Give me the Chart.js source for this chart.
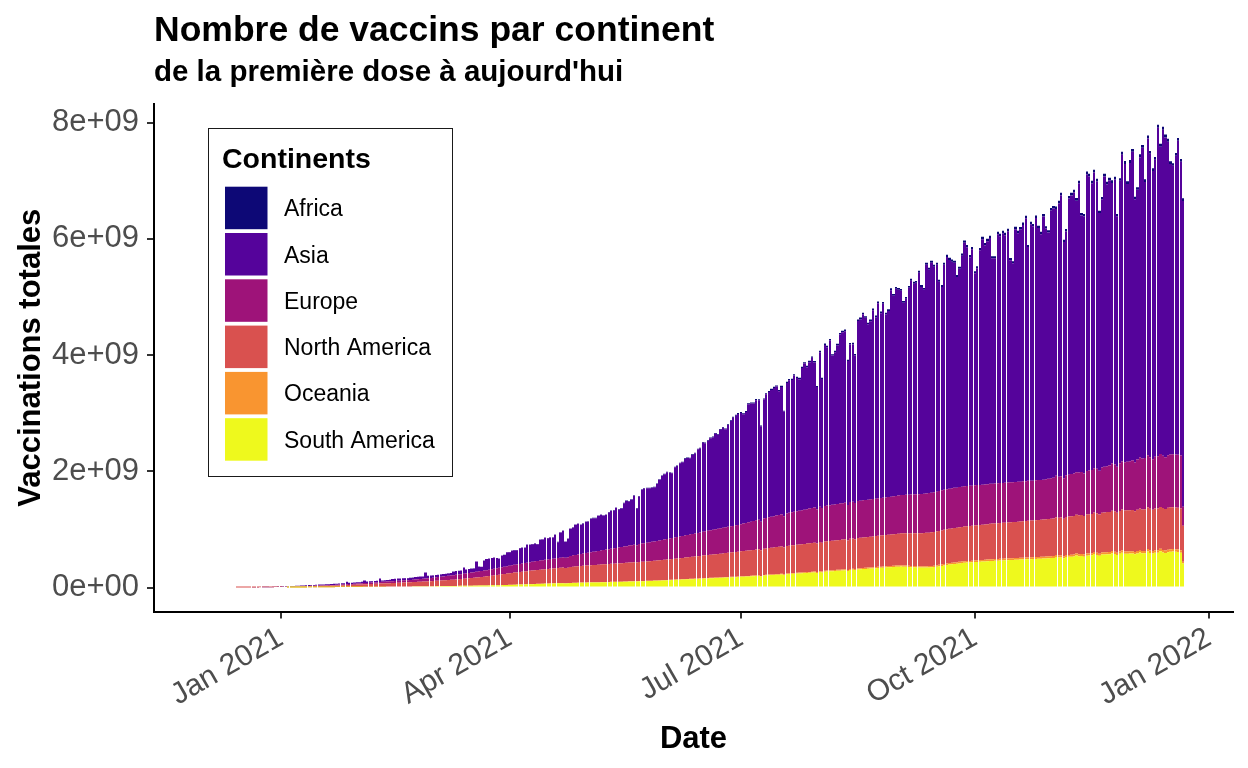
<!DOCTYPE html>
<html><head><meta charset="utf-8">
<script src="https://cdn.jsdelivr.net/npm/chart.js@4.4.1/dist/chart.umd.min.js"></script>
<style>html,body{margin:0;padding:0;background:#fff;}canvas{display:block;}</style>
</head><body>
<canvas id="c" width="1248" height="768"></canvas>
<script>
// ---- texts ----
const titleText = "Nombre de vaccins par continent";
const subtitleText = "de la première dose à aujourd'hui";
const xTitle = "Date";
const yTitle = "Vaccinations totales";
const legendTitle = "Continents";
const continents = ["Africa", "Asia", "Europe", "North America", "Oceania", "South America"];
const continentColors = ["#0D0876", "#55039B", "#9E1379", "#D9514F", "#F99530", "#EEF91D"];

// ---- categories: days since 2021-01-01, first bar = 2020-12-15 ----
const firstDay = -17;

// ---- tick labels ----
const xTickDays = [0, 90, 181, 273, 365];
const xTickLabels = ["Jan 2021", "Apr 2021", "Jul 2021", "Oct 2021", "Jan 2022"];
const yTickValues = [0, 2e9, 4e9, 6e9, 8e9];
const yTickLabels = ["0e+00", "2e+09", "4e+09", "6e+09", "8e+09"];

// ---- series values, millions of doses per day (cumulative totals reported) ----
const southAmerica = [
0,0,0,0,0,0,0,0,0,0,0,0,0,0,0,0,0,
0,0,0,0.5,0.5,1,1,1.5,1.5,2,
2,2.5,3,3,3.5,4,4.5,5,5,5.5,
6,6,6.5,7,7,7.5,8,8.5,9,9.5,
10,10,10.5,11,11.5,12,12.5,13,13.5,14,
14.5,15,15.5,16,16,16.5,17,17,17.5,18,
18.5,19,19.5,20,20.5,21,21.5,22,22.5,23,
23,23.5,24,24.5,25,25,25.5,26,26.5,27,
27.5,28,29,29.5,30,31,31.5,32,33,34,
34.5,35,36,37,37.5,38,39,40,41,42.5,
44,45,47,48,50,51,53,54,56,57,
59,60,62,63,65,66,68,69,70,71,
72,73,70,72,76,78,79,80,81,82,
83,84,85,86,87,88,89,90,91,92,
93,94,95,96,97,99,100,102,103,104,
105,106,107,108,110,111,113,115,116,118,
120,122,124,126,128,130,132,134,136,138,
140,142,144,146,148,150,152,154,156,158,
160,162,164,166,168,170,172,174,176,178,
180,183,185,188,190,193,195,198,200,190,
205,208,211,213,216,219,221,224,215,229,
232,235,237,240,243,245,248,251,254,257,
260,250,266,260,272,275,278,281,284,287,
290,293,296,285,302,305,300,311,314,317,
320,323,326,329,332,335,338,341,344,347,
350,353,356,358,360,358,355,352,350,348,
345,343,342,342,343,345,348,352,358,365,
372,380,388,395,400,405,410,415,420,425,
428,431,434,437,440,443,446,449,452,455,
458,460,462,464,466,468,470,472,474,476,
478,480,482,484,486,488,490,492,494,496,
497,500,503,506,509,525,515,518,505,524,
527,530,533,550,539,542,530,548,551,554,
575,560,545,566,568,570,572,590,576,560,
579,600,581,582,583,584,570,586,605,588,
590,620,594,585,598,600,625,604,595,608,
617,620,615,610,600,412
];

const oceania = [
0,0,0,0,0,0,0,0,0,0,0,0,0,0,0,0,0,
0,0,0,0,0,0,0,0,0,0,
0,0,0,0,0,0,0,0,0,0,
0,0,0,0,0,0,0,0,0,0,
0,0,0,0,0,0,0,0,0,0,
0,0,0,0,0,0,0,0,0,0,
0,0,0.1,0.1,0.2,0.2,0.3,0.3,0.4,0.4,
0.5,0.5,0.6,0.6,0.7,0.7,0.8,0.8,0.9,0.9,
1,1,1,1.1,1.1,1.2,1.2,1.3,1.3,1.4,
1.4,1.5,1.5,1.6,1.6,1.7,1.7,1.8,1.8,1.9,
1.9,2,2,2.1,2.1,2.2,2.2,2.3,2.3,2.4,
2.4,2.5,2.5,2.6,2.6,2.7,2.7,2.8,2.8,2.9,
3,3,3,3,3,3,3,3,3,3.5,
3.5,3.5,3.5,3.5,3.5,4,4,4,4,4,
4,4,4,4,4,4,4,5,5,5,
5,5,5,5,5,5,5,5,6,6,
6,6,6,6,6,6,6,7,7,7,
7,7,7,7,7,7,8,8,8,8,
8,8,8,8,8,8,9,9,9,9,
9,9,9,9,10,10,10,10,10,10,
11,11,11,11,11,12,12,12,12,12,
13,13,13,13,14,14,14,14,14,15,
15,15,15,15,16,16,16,16,16,17,
17,17,17,17,18,18,18,18,18,19,
19,19,19,19,20,20,20,20,20,21,
21,21,21,21,22,22,22,22,22,23,
23,23,23,23,24,24,24,24,24,25,
25,25,25,25,26,26,26,26,26,27,
27,27,27,27,28,28,28,28,28,29,
29,29,29,29,29,30,30,30,30,30,
30,30,31,31,31,31,31,32,32,32,
32,32,33,33,33,33,34,34,34,34,
34,35,35,35,35,36,36,36,36,36,
37,37,37,37,37,38,38,38,38,38,
39,39,39,39,39,40,40,40,40,40,
40,41,41,41,41,41,42,42,42,42,
42,42,43,43,43,30
];

const northAmerica = [
0.1,0.2,0.3,0.5,0.7,0.9,1.2,1.5,1.9,2.3,2.8,3.5,4.2,5,6,7,8.5,
10,11,12,12,13,14,15,16,16,17,
18,19,20,21,22,23,24,24,25,26,
27,28,29,31,32,33,35,36,37,39,
40,41,43,44,46,47,49,50,52,53,
55,56,58,59,61,62,64,65,67,68,
70,72,73,75,77,79,80,82,84,86,
88,90,92,95,97,100,102,105,107,110,
113,116,120,123,127,131,135,139,143,147,
150,155,160,165,170,175,180,185,190,195,
200,203,207,210,214,217,221,224,228,231,
235,238,241,244,247,250,253,256,259,262,
265,268,262,266,275,278,280,283,285,288,
290,292,294,296,298,300,302,304,306,308,
310,312,313,315,317,318,320,322,323,325,
320,329,331,332,334,336,338,340,341,343,
345,348,350,353,356,358,361,364,366,369,
372,375,378,380,383,386,389,392,395,397,
400,403,406,408,411,414,417,420,422,425,
428,430,433,435,438,440,442,445,447,440,
452,454,457,459,461,464,466,468,460,473,
475,477,479,482,484,486,488,490,493,495,
497,490,500,494,503,505,506,508,509,511,
512,514,515,508,518,520,514,523,524,526,
527,528,530,531,533,534,535,537,538,539,
540,542,545,547,550,552,555,557,560,562,
565,567,569,571,573,575,577,579,581,583,
585,587,588,590,591,593,594,596,597,599,
600,601,602,604,605,606,607,608,610,611,
612,613,614,616,617,618,619,620,622,623,
625,626,628,629,631,632,633,635,636,638,
639,641,643,645,647,649,651,653,645,657,
660,662,664,665,667,669,665,673,675,676,
678,680,675,685,687,689,691,693,696,690,
700,702,704,706,707,709,700,713,715,716,
718,718,719,712,719,720,720,720,712,720,
720,720,720,720,718,621
];

const europe = [
0,0,0,0,0,0,0,0,0,0,0.1,0.2,0.3,0.5,0.8,1.2,1.6,
2,2,3,3,3,3.5,4,4,4.5,5,
5,5.5,6,6.5,7,7.5,8,8.5,9,9.5,
10,11,11,12,13,14,14,15,16,17,
18,19,20,21,22,23,24,25,26,27,
28,29,30,31,32,33,34,35,36,37,
38,40,42,44,46,48,50,52,54,56,
58,61,63,66,68,71,73,76,78,80,
82,84,87,89,91,94,96,98,101,103,
105,107,110,112,114,117,119,121,124,126,
128,131,134,136,139,142,145,147,150,153,
155,157,158,160,162,163,165,167,168,170,
172,176,175,178,189,194,198,202,207,211,
215,220,224,229,233,238,242,247,251,256,
260,265,269,274,278,283,287,292,296,301,
298,309,313,317,321,325,329,333,337,341,
345,349,353,357,361,365,369,373,377,381,
385,389,393,397,401,405,409,413,417,421,
425,429,432,436,439,443,446,450,453,457,
460,466,472,478,484,490,496,502,508,490,
520,524,529,533,538,542,547,551,540,560,
565,569,573,577,581,585,589,593,597,601,
605,590,609,598,613,615,617,619,621,623,
625,627,628,610,631,633,620,636,637,639,
640,641,642,643,644,645,646,647,648,649,
650,652,654,656,658,660,662,664,666,668,
670,672,674,676,678,680,682,684,686,688,
689,691,690,688,692,690,687,691,690,689,
690,690,689,689,689,688,688,688,688,688,
688,688,688,687,687,687,687,687,686,686,
686,684,688,685,687,686,683,687,686,685,
686,689,693,696,700,715,707,710,695,717,
720,724,728,732,736,740,730,748,752,756,
760,766,752,778,784,790,796,812,808,790,
820,826,832,838,844,850,840,862,878,874,
880,895,886,870,892,895,910,901,890,907,
910,910,912,912,910,326
];

const asia = [
0.5,0.5,0.6,0.7,0.8,0.9,1.0,1.2,1.3,1.5,10,9,8,4,4.5,5,5.5,
9,8,7,8,9,9,9,9,11,12,
15,14,14,14,15,17,15,15,16,16,
18,18,19,19,19,20,42,20,21,21,
22,22,23,45,23,24,24,25,25,60,
24,25,25,26,36,37,38,38,38,38,
34,34,34,41,40,39,38,100,38,40,
38,38,38,38,40,40,41,41,60,64,
62,63,105,66,68,66,64,175,80,70,
171,190,189,190,191,174,157,201,204,240,
233,252,251,245,270,272,263,309,300,301,
306,287,358,355,379,366,372,366,408,274,
435,456,276,320,468,480,520,529,504,513,
538,535,574,578,571,603,613,593,598,630,
651,649,689,652,662,747,779,758,782,842,
633,815,924,940,939,932,929,933,979,1045,
1101,1122,1148,1132,1113,1208,1221,1259,1268,1316,
1323,1309,1357,1378,1438,1446,1533,1514,1544,1583,
1590,1643,1613,1696,1722,1686,1752,1811,1861,1887,
1909,1915,1882,1910,2032,2033,2023,2068,2058,1645,
2046,2128,2156,2183,2207,2221,2131,2196,1802,2246,
2281,2277,2344,2293,2262,2448,2515,2442,2518,2583,
2494,2104,2658,2221,2766,2724,2834,2569,2619,2728,
2909,2941,2954,2477,2713,2706,2541,3095,3124,3198,
3134,3019,3065,3249,3122,3358,3181,3337,3148,3200,
3555,3450,3562,3539,3515,3306,3373,3561,3679,3625,
3638,3808,3564,3509,3934,3842,3955,3878,3903,3599,
3500,3869,3997,3937,3896,3872,3625,3756,3974,4190,
4109,3933,4068,3650,3732,4039,4224,4117,4181,4228,
3878,3875,4285,4248,4296,4259,4325,3823,3768,4350,
4276,4342,4407,4524,4021,4414,4377,4510,4335,4228,
4528,4313,4235,4606,4631,4589,4700,4830,4064,4194,
4750,4793,4835,4673,4973,4414,4422,5101,5058,4929,
5090,4942,4432,4609,4995,4847,4906,4827,4902,4307,
4858,5279,5132,4779,5132,5313,4530,4641,5165,5346,
4750,5450,5221,4958,5108,5653,5287,5609,5501,5393,
4999,4962,5136,5399,5052,5262
];

const africa = [
0,0,0,0,0,0,0,0,0,0,0,0,0,0,0,0,0,
0,0,0,0,0,0,0,0,0,0,
0,0,0,0,0,0,0,0,0,0,
0,0,0,0,0,0,0.1,0.1,0.2,0.2,
0.3,0.3,0.4,0.4,0.5,0.5,0.6,0.6,0.7,0.7,
0.8,0.8,0.9,0.9,1,1,1.1,1.1,1.2,1.2,
1.3,1.3,1.4,1.4,1.5,1.5,1.6,1.6,1.7,1.7,
1.8,1.8,1.9,1.9,2,2,2.1,2.1,2.2,2.2,
2.3,2.3,2.4,2.4,2.5,2.5,2.6,2.6,2.7,2.7,
2.8,2.8,2.9,2.9,3,3,3.1,3.1,3.2,3.2,
3.3,3.3,3.4,3.5,3.6,3.7,3.8,3.9,4,4.1,
4.2,4.3,4.4,4.5,4.6,4.7,4.8,4.9,5,5.1,
5.2,5.3,5.4,5.5,5.6,5.7,5.8,5.9,6,6.1,
6.2,6.3,6.4,6.5,6.6,6.7,6.8,6.9,7,7.1,
7.2,7.3,7.4,7.5,7.6,7.7,7.8,7.9,8,8.1,
8.2,8.3,8.4,8.5,8.6,8.7,8.8,8.9,9,9.1,
9.2,9.4,9.6,9.8,10,10.2,10.4,10.6,10.8,11,
11.2,11.4,11.6,11.8,12,12.2,12.4,12.6,12.8,13,
13.2,13.4,13.6,13.8,14,14.2,14.4,14.6,14.8,15,
15,16,15,16,17,16,17,18,17,12,
18,19,18,19,20,19,20,21,14,21,
21,22,21,22,23,22,23,24,23,24,
24,18,25,19,26,25,26,22,25,26,
27,26,27,22,26,27,23,28,29,28,
28,27,28,29,28,30,29,30,29,30,
31,30,32,31,32,29,30,33,34,33,
34,35,33,32,36,35,36,35,37,33,
32,37,38,37,36,37,33,35,38,40,
39,37,38,33,34,38,40,39,39,40,
36,36,41,40,41,40,42,36,35,42,
41,42,42,44,38,42,41,43,41,40,
43,40,39,44,44,43,45,47,38,40,
45,46,46,44,47,40,41,49,48,46,
48,47,41,43,47,45,46,45,46,40,
46,50,48,44,48,50,42,43,49,51,
45,52,49,46,48,53,50,53,52,51,
47,47,49,51,48,45
];

// ---- build ----
const FONT = "'Liberation Sans', Arial, Helvetica, sans-serif";
const seriesByName = {
  "Africa": africa, "Asia": asia, "Europe": europe,
  "North America": northAmerica, "Oceania": oceania, "South America": southAmerica
};
const dayIndex = southAmerica.map((_, i) => firstDay + i);
const colorOf = name => continentColors[continents.indexOf(name)];
// ggplot stacks the first factor level on top -> draw bottom-up in reverse order
const stackOrder = continents.slice().reverse();

const datasets = stackOrder.map(name => ({
  label: name,
  data: seriesByName[name].map((v, i) => ({ x: dayIndex[i], y: v * 1e6 })),
  backgroundColor: colorOf(name),
  borderWidth: 0,
  inflateAmount: 0,
  barPercentage: 0.9,
  categoryPercentage: 1.0
}));

// snap bar left/right edges to whole pixels (like a raster graphics device does)
const snapPlugin = {
  id: 'snap',
  afterDatasetsUpdate(chart) {
    chart.data.datasets.forEach((ds, di) => {
      chart.getDatasetMeta(di).data.forEach(el => {
        const l = Math.round(el.x - el.width / 2);
        const r = Math.round(el.x + el.width / 2);
        el.x = (l + r) / 2;
        el.width = Math.max(r - l, 1);
      });
    });
  }
};

const textPlugin = {
  id: 'texts',
  afterDraw(chart) {
    const ctx = chart.ctx;
    const ca = chart.chartArea;
    ctx.save();
    ctx.fillStyle = '#000';
    ctx.textBaseline = 'alphabetic';
    ctx.textAlign = 'left';
    ctx.font = `bold 35.5px ${FONT}`;
    ctx.fillText(titleText, 154, 41);
    ctx.font = `bold 29.5px ${FONT}`;
    ctx.fillText(subtitleText, 154, 81);

    ctx.font = `bold 31px ${FONT}`;
    ctx.textAlign = 'center';
    ctx.fillText(xTitle, (ca.left + ca.right) / 2, 748);
    ctx.save();
    ctx.translate(40, (ca.top + ca.bottom) / 2);
    ctx.rotate(-Math.PI / 2);
    ctx.fillText(yTitle, 0, 0);
    ctx.restore();

    // legend
    ctx.fillStyle = '#fff';
    ctx.fillRect(208.5, 128.5, 244, 348);
    ctx.strokeStyle = '#1a1a1a';
    ctx.lineWidth = 1;
    ctx.strokeRect(208.5, 128.5, 244, 348);
    ctx.fillStyle = '#000';
    ctx.textAlign = 'left';
    ctx.font = `bold 28.5px ${FONT}`;
    ctx.fillText(legendTitle, 222, 168);
    ctx.font = `23px ${FONT}`;
    continents.forEach((name, i) => {
      const y0 = 186.7 + 46.3 * i;
      ctx.fillStyle = continentColors[i];
      ctx.fillRect(225, y0, 42.5, 42.5);
      ctx.fillStyle = '#000';
      ctx.fillText(name, 284, y0 + 21.25 + 8.3);
    });
    ctx.restore();
  }
};

new Chart(document.getElementById('c'), {
  type: 'bar',
  data: { datasets },
  options: {
    responsive: false,
    animation: false,
    devicePixelRatio: 1,
    layout: { padding: { top: 104, right: 15, left: 0, bottom: 0 } },
    plugins: { legend: { display: false }, tooltip: { enabled: false }, title: { display: false } },
    scales: {
      x: {
        type: 'linear', stacked: true, bounds: 'data', offset: false,
        min: -49.83, max: 374.55,
        afterBuildTicks: s => { s.ticks = xTickDays.map(v => ({ value: v })); },
        afterFit: s => { s.height = 156.5; },
        ticks: {
          autoSkip: false, maxRotation: 30, minRotation: 30, padding: 2,
          color: '#4D4D4D', font: { family: FONT, size: 30 },
          callback: v => { const i = xTickDays.indexOf(v); return i >= 0 ? xTickLabels[i] : ''; }
        },
        grid: { offset: false, drawOnChartArea: false, drawTicks: true, tickLength: 7, lineWidth: 2, tickWidth: 2, tickColor: '#333333', color: '#333333' },
        border: { display: true, color: '#000', width: 2 }
      },
      y: {
        type: 'linear', stacked: true, bounds: 'data',
        min: -0.4129e9, max: 8.3183e9,
        afterBuildTicks: s => { s.ticks = yTickValues.map(v => ({ value: v })); },
        afterFit: s => { s.width = 154; },
        ticks: {
          padding: 8, color: '#4D4D4D', font: { family: FONT, size: 31 },
          callback: v => { const i = yTickValues.indexOf(v); return i >= 0 ? yTickLabels[i] : ''; }
        },
        grid: { offset: false, drawOnChartArea: false, drawTicks: true, tickLength: 7, lineWidth: 2, tickWidth: 2, tickColor: '#333333', color: '#333333' },
        border: { display: true, color: '#000', width: 2 }
      }
    }
  },
  plugins: [snapPlugin, textPlugin]
});
</script>
</body></html>
